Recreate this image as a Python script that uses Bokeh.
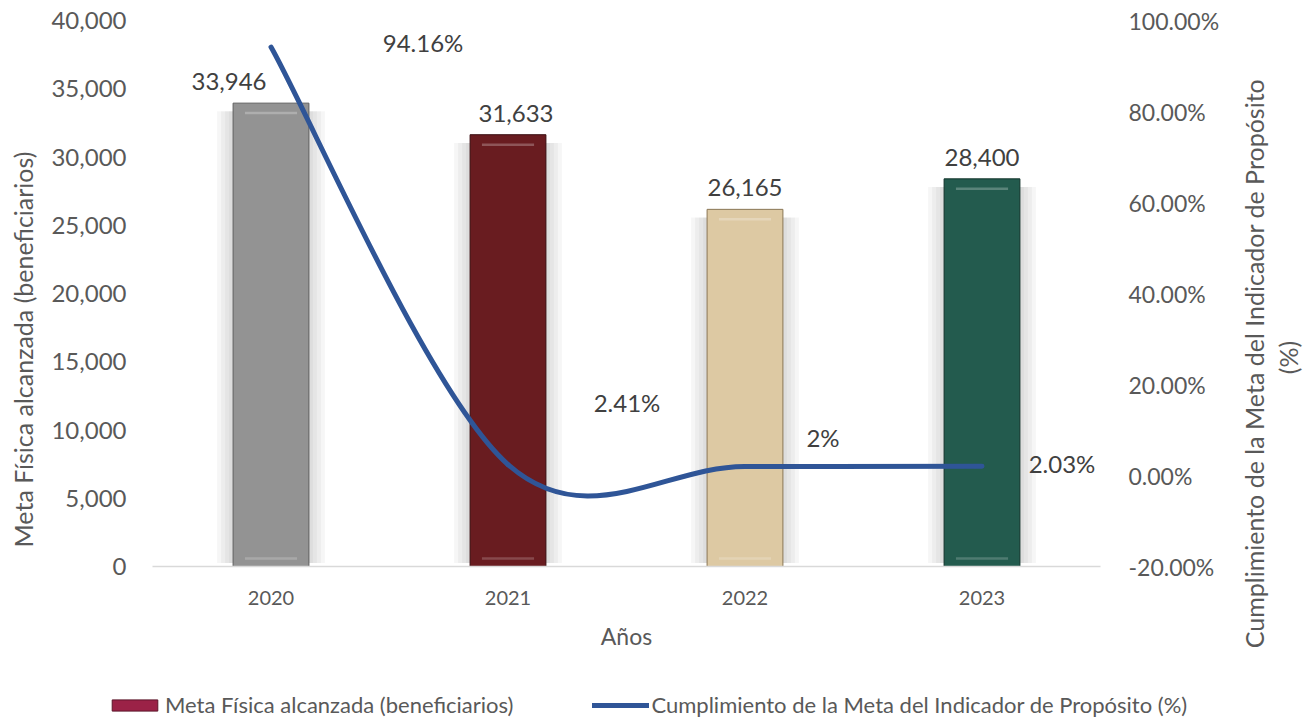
import math
from bokeh.plotting import figure
from bokeh.layouts import row, column
from bokeh.models import (Range1d, LinearAxis, FixedTicker, NumeralTickFormatter,
                          Legend, LegendItem)
from bokeh.core.properties import value
from bokeh.embed import file_html
from bokeh.resources import INLINE

# ---------------- data ----------------
years = ["2020", "2021", "2022", "2023"]
beneficiarios = [33946, 31633, 26165, 28400]
cumplimiento = [0.9416, 0.0241, 0.02, 0.0203]
cumplimiento_labels = ["94.16%", "2.41%", "2%", "2.03%"]
left_ticks = [0, 5000, 10000, 15000, 20000, 25000, 30000, 35000, 40000]
right_ticks = [-0.2, 0.0, 0.2, 0.4, 0.6, 0.8, 1.0]
left_title = "Meta Física alcanzada (beneficiarios)"
right_title = ["Cumplimiento de la Meta del Indicador de Propósito", "(%)"]
x_title = "Años"
legend_labels = ["Meta Física alcanzada (beneficiarios)",
                 "Cumplimiento de la Meta del Indicador de Propósito (%)"]

# ---------------- styles ----------------
FONT = "Lato"
TXT = "#595959"
LBL = "#404040"
bar_colors = ["#939393", "#691C20", "#DDC9A3", "#235B4E"]
bar_borders = ["#5F5F5F", "#3A0E11", "#8A7655", "#12332B"]
line_color = "#2F5597"
bar_lbl_dx = [-42, 8, 0, 0]
pct_dx = [152, 119, 78, 80]
pct_dy = [-5, -62, -29, -3]

H_MAIN = 660
W_LT, W_MAIN, W_RT = 40, 1192, 74
H_LEG = 59

xs = [i + 0.5 for i in range(len(years))]
PX = 237.0


def blank(width, height):
    f = figure(width=width, height=height, output_backend="svg",
               toolbar_location=None, x_range=Range1d(0, width),
               y_range=Range1d(0, height), min_border=0,
               x_axis_type=None, y_axis_type=None)
    f.grid.visible = False
    f.outline_line_color = None
    return f


p = figure(width=W_MAIN, height=H_MAIN, output_backend="svg", toolbar_location=None,
           x_range=Range1d(0, len(years)), y_range=Range1d(0, 40000),
           min_border_left=112, min_border_right=132, min_border_top=20,
           min_border_bottom=H_MAIN - 566)
p.extra_y_ranges = {"pct": Range1d(-0.2, 1.0)}
p.grid.visible = False
p.outline_line_color = None

# x axis
xa = p.xaxis[0]
xa.ticker = FixedTicker(ticks=xs)
xa.major_label_overrides = {x: y for x, y in zip(xs, years)}
xa.axis_line_color = "#D9D9D9"
xa.axis_line_width = 1.5
xa.major_tick_line_color = None
xa.minor_tick_line_color = None
xa.major_label_text_font = FONT
xa.major_label_text_font_size = "20px"
xa.major_label_text_color = TXT
xa.major_label_standoff = 18
xa.axis_label = x_title
xa.axis_label_text_font = FONT
xa.axis_label_text_font_size = "23px"
xa.axis_label_text_font_style = "normal"
xa.axis_label_text_color = TXT
xa.axis_label_standoff = 14

# left axis
ya = p.yaxis[0]
ya.ticker = FixedTicker(ticks=left_ticks)
ya.formatter = NumeralTickFormatter(format="0,0")
ya.axis_line_color = None
ya.major_tick_line_color = None
ya.minor_tick_line_color = None
ya.major_label_text_font = FONT
ya.major_label_text_font_size = "24px"
ya.major_label_text_color = TXT
ya.major_label_standoff = 20

# right axis
ra = LinearAxis(y_range_name="pct", ticker=FixedTicker(ticks=right_ticks),
                formatter=NumeralTickFormatter(format="0.00%"))
ra.axis_line_color = None
ra.major_tick_line_color = None
ra.minor_tick_line_color = None
ra.major_label_text_font = FONT
ra.major_label_text_font_size = "23px"
ra.major_label_text_color = TXT
ra.major_label_standoff = 22
p.add_layout(ra, "right")

# bar halos (soft shadow)
for e in (16, 12, 8, 4):
    p.vbar(x=xs, top=[v - 600 for v in beneficiarios], bottom=250,
           width=0.32 + 2 * e / PX, fill_color="#7F7F7F", fill_alpha=0.065,
           line_color=None)

# bars
p.vbar(x=xs, top=beneficiarios, width=0.32, fill_color=bar_colors,
       line_color=bar_borders, line_width=1)

# subtle inner highlights
p.segment(x0=[x - 0.11 for x in xs], y0=[v - 730 for v in beneficiarios],
          x1=[x + 0.11 for x in xs], y1=[v - 730 for v in beneficiarios],
          line_color="white", line_alpha=0.25, line_width=2.5)
p.segment(x0=[x - 0.11 for x in xs], y0=[590] * len(xs),
          x1=[x + 0.11 for x in xs], y1=[590] * len(xs),
          line_color="white", line_alpha=0.2, line_width=2.5)

# bar value labels
p.text(x=xs, y=beneficiarios, text=[f"{v:,}" for v in beneficiarios],
       x_offset=bar_lbl_dx, text_align="center", text_baseline="bottom",
       y_offset=-13, text_font=value(FONT), text_font_size="24px",
       text_color=LBL)

# smoothed line (Excel-style bezier smoothing through the data points)
pts = list(zip(xs, cumplimiento))
ext = [pts[0]] + pts + [pts[-1]]
bx0, by0, bx1, by1, cx0, cy0, cx1, cy1 = [], [], [], [], [], [], [], []
for i in range(len(pts) - 1):
    P0, P1, P2, P3 = ext[i], ext[i + 1], ext[i + 2], ext[i + 3]
    bx0.append(P1[0]); by0.append(P1[1])
    bx1.append(P2[0]); by1.append(P2[1])
    cx0.append(P1[0] + (P2[0] - P0[0]) / 6); cy0.append(P1[1] + (P2[1] - P0[1]) / 6)
    cx1.append(P2[0] - (P3[0] - P1[0]) / 6); cy1.append(P2[1] - (P3[1] - P1[1]) / 6)
p.bezier(x0=bx0, y0=by0, x1=bx1, y1=by1, cx0=cx0, cy0=cy0, cx1=cx1, cy1=cy1,
         line_color=line_color, line_width=5, line_cap="round",
         y_range_name="pct")

# percentage labels
p.text(x=xs, y=cumplimiento, text=cumplimiento_labels, x_offset=pct_dx,
       y_offset=pct_dy, text_align="center", text_baseline="middle",
       text_font=value(FONT), text_font_size="24px", text_color=LBL,
       y_range_name="pct")

# left axis title panel
lt = blank(W_LT, H_MAIN)
lt.text(x=[22], y=[H_MAIN - 349], text=[left_title], angle=math.pi / 2,
        text_align="center", text_baseline="middle", text_font=value(FONT),
        text_font_size="25px", text_color=TXT)

# right axis title panel
rt = blank(W_RT, H_MAIN)
rt.text(x=[21, 55], y=[H_MAIN - 363, H_MAIN - 357], text=right_title,
        angle=math.pi / 2, text_align="center", text_baseline="middle",
        text_font=value(FONT), text_font_size="25px", text_color=TXT)

# legend panel
lg = blank(W_LT + W_MAIN + W_RT, H_LEG)
dummy_bar = lg.vbar(x=[-100], top=[-100], bottom=[-200], width=10,
                    fill_color="#9B2247", line_color="#5C1429", line_width=1)
dummy_line = lg.line(x=[-100, -90], y=[-100, -100], line_color=line_color,
                     line_width=5, line_cap="round")
legend = Legend(items=[
    LegendItem(label=legend_labels[0], renderers=[dummy_bar]),
    LegendItem(label=legend_labels[1], renderers=[dummy_line]),
], orientation="horizontal", location=(106, 1), glyph_width=57,
    glyph_height=14, label_standoff=2, spacing=79, padding=0, margin=0,
    border_line_color=None, background_fill_alpha=0,
    label_text_font=FONT, label_text_font_size="22px", label_text_color=TXT)
lg.add_layout(legend)

layout = column(row(column(lt), p, column(rt)), lg)
open("out.html", "w").write(file_html(layout, INLINE))
